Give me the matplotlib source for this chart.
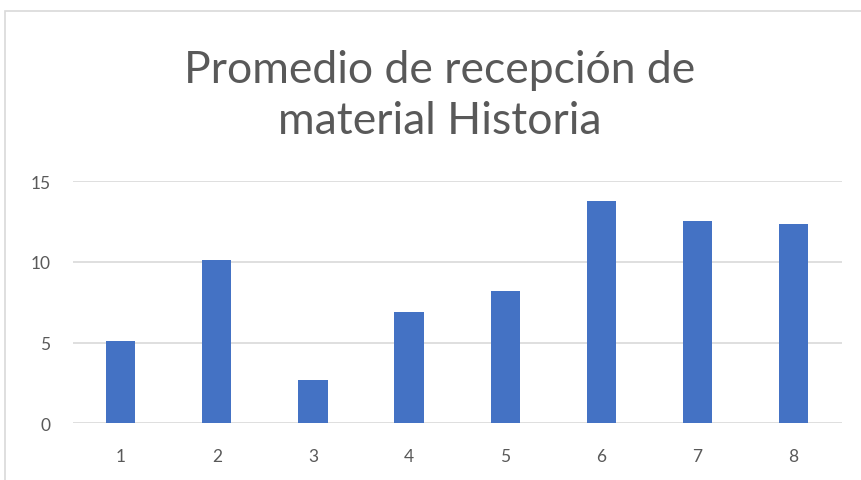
import matplotlib.pyplot as plt
from matplotlib.patches import Rectangle

# Data
categories = ['1', '2', '3', '4', '5', '6', '7', '8']
values = [5.08, 10.1, 2.67, 6.88, 8.18, 13.76, 12.54, 12.34]
y_ticks = [0, 5, 10, 15]
title = 'Promedio de recepción de\nmaterial Historia'

W, H = 861, 481
fig = plt.figure(figsize=(W / 100, H / 100), dpi=100)

# Chart frame (cropped on the right and bottom in the reference)
fig.patches.append(Rectangle((5 / W, -0.1), 1.2, (H - 12) / H + 0.1,
                             transform=fig.transFigure, fill=False,
                             edgecolor='#d9d9d9', lw=1.2))

ax = fig.add_axes([72.6 / W, (H - 424.3) / H, 769 / W, 242 / H])
x = range(len(categories))
ax.bar(x, values, width=0.305, color='#4472C4', zorder=3)

ax.set_xlim(-0.5, len(categories) - 0.5)
ax.set_ylim(0, 15)
ax.set_xticks(list(x))
ax.set_xticklabels(categories)
ax.set_yticks(y_ticks)
ax.grid(axis='y', color='#d9d9d9', lw=1.2, zorder=0)
for s in ax.spines.values():
    s.set_visible(False)
ax.tick_params(length=0, labelsize=12.5, labelcolor='#595959', pad=18)
ax.tick_params(axis='y', pad=16)
for lbl in ax.get_xticklabels() + ax.get_yticklabels():
    lbl.set_family('Lato')

fig.text(440 / W, 1 - 96 / H, title, ha='center', va='center',
         fontsize=32, color='#595959', family='Lato', linespacing=1.3)

fig.savefig('out.png', dpi=100)
